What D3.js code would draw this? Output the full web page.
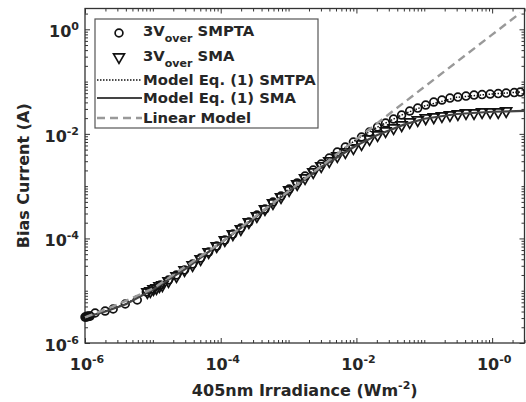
<!DOCTYPE html>
<html>
<head>
<meta charset="utf-8">
<script src="https://cdnjs.cloudflare.com/ajax/libs/d3/7.8.5/d3.min.js"></script>
<style>
body { margin: 0; background: #fff; }
text { font-family: "DejaVu Sans", sans-serif; font-weight: bold; fill: #262626; }
</style>
</head>
<body>
<div id="chart"></div>
<script>
// 3V_over SMPTA, measured (circles)
var smpta_x = [1.00e-6, 1.035e-6, 1.07e-6, 1.11e-6, 1.15e-6, 1.19e-6, 1.41e-6, 1.98e-6, 2.60e-6, 3.92e-6, 5.89e-6,
    8.01e-6, 9.84e-6, 1.29e-5, 1.70e-5, 2.23e-5, 2.93e-5, 3.85e-5, 5.06e-5, 6.64e-5, 8.73e-5,
    1.15e-4, 1.51e-4, 1.98e-4, 2.60e-4, 3.41e-4, 4.49e-4, 5.89e-4, 7.74e-4, 1.02e-3, 1.34e-3,
    1.75e-3, 2.31e-3, 3.03e-3, 3.98e-3, 5.23e-3, 6.87e-3, 9.03e-3, 1.19e-2, 1.56e-2, 2.05e-2,
    2.69e-2, 3.53e-2, 4.64e-2, 6.10e-2, 8.01e-2, 0.105, 0.138, 0.182, 0.239, 0.313,
    0.412, 0.541, 0.711, 0.934, 1.23, 1.61, 2.12, 2.60];
var smpta_y = [3.14e-6, 3.14e-6, 3.21e-6, 3.21e-6, 3.28e-6, 3.28e-6, 3.75e-6, 4.09e-6, 4.47e-6, 5.57e-6, 6.64e-6,
    9.45e-6, 1.08e-5, 1.28e-5, 1.60e-5, 2.00e-5, 2.49e-5, 3.24e-5, 4.22e-5, 5.49e-5, 7.16e-5,
    9.31e-5, 1.21e-4, 1.58e-4, 2.06e-4, 2.80e-4, 3.65e-4, 4.97e-4, 6.47e-4, 8.81e-4, 1.15e-3,
    1.56e-3, 2.03e-3, 2.65e-3, 3.45e-3, 4.49e-3, 5.60e-3, 6.97e-3, 8.69e-3, 1.08e-2, 1.35e-2,
    1.61e-2, 1.92e-2, 2.29e-2, 2.73e-2, 3.11e-2, 3.56e-2, 4.06e-2, 4.43e-2, 4.83e-2, 5.05e-2,
    5.28e-2, 5.52e-2, 5.64e-2, 5.77e-2, 5.89e-2, 6.02e-2, 6.16e-2, 6.30e-2];

// 3V_over SMA, measured (triangles)
var sma_x = [8.30e-6, 9.19e-6, 1.02e-5, 1.13e-5, 1.25e-5, 1.38e-5, 1.70e-5, 2.23e-5, 2.93e-5, 3.85e-5, 5.06e-5,
    6.64e-5, 8.73e-5, 1.15e-4, 1.51e-4, 1.98e-4, 2.60e-4, 3.41e-4, 4.49e-4, 5.89e-4, 7.74e-4,
    1.02e-3, 1.34e-3, 1.75e-3, 2.31e-3, 3.03e-3, 3.98e-3, 5.23e-3, 6.87e-3, 9.03e-3, 1.19e-2,
    1.56e-2, 2.05e-2, 2.69e-2, 3.53e-2, 4.64e-2, 6.10e-2, 8.01e-2, 0.105, 0.138, 0.182,
    0.239, 0.313, 0.412, 0.541, 0.711, 0.934, 1.23, 1.61];
var sma_y = [9.45e-6, 9.87e-6, 1.08e-5, 1.13e-5, 1.23e-5, 1.28e-5, 1.53e-5, 1.91e-5, 2.49e-5, 3.10e-5, 4.03e-5,
    5.49e-5, 7.16e-5, 9.31e-5, 1.21e-4, 1.51e-4, 2.06e-4, 2.68e-4, 3.65e-4, 4.75e-4, 6.19e-4,
    8.43e-4, 1.10e-3, 1.43e-3, 1.86e-3, 2.42e-3, 3.02e-3, 3.77e-3, 4.49e-3, 5.35e-3, 6.38e-3,
    7.95e-3, 9.48e-3, 1.13e-2, 1.29e-2, 1.47e-2, 1.68e-2, 1.84e-2, 2.00e-2, 2.09e-2, 2.19e-2,
    2.29e-2, 2.39e-2, 2.50e-2, 2.50e-2, 2.61e-2, 2.61e-2, 2.61e-2, 2.73e-2];

// Model Eq. (1) curves
var model_smpta_x = [1e-6, 2e-6, 4e-6, 1e-5, 3e-5, 1e-4, 3e-4, 1e-3, 3e-3, 1e-2, 2e-2, 5e-2, 0.1, 0.3, 1, 2.6];
var model_smpta_y = [3.1e-6, 4.1e-6, 5.6e-6, 1.07e-5, 2.6e-5, 8.2e-5, 2.4e-4, 8.6e-4, 2.6e-3, 7.8e-3, 1.33e-2, 2.4e-2, 3.4e-2, 5.0e-2, 5.8e-2, 6.3e-2];
var model_sma_x = [1e-6, 2e-6, 4e-6, 1e-5, 3e-5, 1e-4, 3e-4, 1e-3, 3e-3, 1e-2, 2e-2, 5e-2, 0.1, 0.3, 1, 3];
var model_sma_y = [3.1e-6, 4.0e-6, 5.5e-6, 1.05e-5, 2.6e-5, 8.2e-5, 2.35e-4, 7.9e-4, 2.3e-3, 6.0e-3, 9.4e-3, 1.5e-2, 1.95e-2, 2.4e-2, 2.65e-2, 2.75e-2];
var linear_x = [1e-6, 3e-6, 1e-5, 1e-4, 1e-3, 1e-2, 0.1, 1, 2.6];
var linear_y = [3.1e-6, 5.4e-6, 1.1e-5, 8.3e-5, 8.0e-4, 7.9e-3, 7.9e-2, 0.79, 2.05];

var x_tick_exps = [-6, -4, -2, 0];
var x_tick_sups = ['-6', '-4', '-2', '-0'];
var y_tick_exps = [-6, -4, -2, 0];
var y_tick_sups = ['-6', '-4', '-2', '0'];

var legend_labels = ['SMPTA', 'SMA', 'Model Eq. (1) SMTPA', 'Model Eq. (1) SMA', 'Linear Model'];

var width = 526, height = 402;
var margin = {top: 8.5, right: 1.5, bottom: 59, left: 85};
var axisColor = '#333';

var svg = d3.select('#chart').append('svg')
    .attr('width', width)
    .attr('height', height);

var x = d3.scaleLog().domain([1e-6, 3]).range([margin.left, width - margin.right]);
var y = d3.scaleLog().domain([1e-6, 2.5]).range([height - margin.bottom, margin.top]);

// tick positions k*10^n inside the domain
function logTicks(scale) {
    var d = scale.domain(), out = [];
    for (var e = -6; e <= 0; e++) {
        for (var k = 1; k <= 9; k++) {
            var v = k * Math.pow(10, e);
            if (v >= d[0] && v <= d[1]) out.push(v);
        }
    }
    return out;
}

function isMajor(v) {
    var e = Math.log10(v);
    return Math.abs(e - Math.round(e)) < 1e-9 && Math.round(e) % 2 === 0;
}

function styleAxis(g) {
    g.select('.domain').remove();
    g.selectAll('.tick line').attr('stroke', axisColor).attr('stroke-width', 1);
}

var xt = logTicks(x), yt = logTicks(y);
var x0 = margin.left, x1 = width - margin.right, y0 = height - margin.bottom, y1 = margin.top;

svg.append('g').attr('transform', 'translate(0,' + y0 + ')')
    .call(d3.axisBottom(x).tickValues(xt).tickFormat('').tickSizeOuter(0)
        .tickSizeInner(-3)).call(styleAxis)
    .selectAll('.tick line').attr('y2', function (d) { return isMajor(d) ? -5 : -3; });
svg.append('g').attr('transform', 'translate(0,' + y1 + ')')
    .call(d3.axisTop(x).tickValues(xt).tickFormat('').tickSizeOuter(0)
        .tickSizeInner(-3)).call(styleAxis)
    .selectAll('.tick line').attr('y2', function (d) { return isMajor(d) ? 5 : 3; });
svg.append('g').attr('transform', 'translate(' + x0 + ',0)')
    .call(d3.axisLeft(y).tickValues(yt).tickFormat('').tickSizeOuter(0)
        .tickSizeInner(-3)).call(styleAxis)
    .selectAll('.tick line').attr('x2', function (d) { return isMajor(d) ? 5 : 3; });
svg.append('g').attr('transform', 'translate(' + x1 + ',0)')
    .call(d3.axisRight(y).tickValues(yt).tickFormat('').tickSizeOuter(0)
        .tickSizeInner(-3)).call(styleAxis)
    .selectAll('.tick line').attr('x2', function (d) { return isMajor(d) ? -5 : -3; });

svg.append('rect')
    .attr('x', x0).attr('y', y1)
    .attr('width', x1 - x0).attr('height', y0 - y1)
    .attr('fill', 'none').attr('stroke', axisColor).attr('stroke-width', 1.3);

// tick labels with superscripts
x_tick_exps.forEach(function (e, i) {
    var t = svg.append('text')
        .attr('x', x(Math.pow(10, e)) + 2).attr('y', 370)
        .attr('text-anchor', 'middle').style('font-size', '16px');
    t.append('tspan').text('10');
    t.append('tspan').attr('dy', -7).style('font-size', '11px').text(x_tick_sups[i]);
});
y_tick_exps.forEach(function (e, i) {
    var t = svg.append('text')
        .attr('x', 79).attr('y', y(Math.pow(10, e)) + 8)
        .attr('text-anchor', 'end').style('font-size', '16px');
    t.append('tspan').text('10');
    t.append('tspan').attr('dy', -7).style('font-size', '11px').text(y_tick_sups[i]);
});

// axis titles
var xt_title = svg.append('text')
    .attr('x', (x0 + x1) / 2).attr('y', 396)
    .attr('text-anchor', 'middle').style('font-size', '16px');
xt_title.append('tspan').text('405nm Irradiance (Wm');
xt_title.append('tspan').attr('dy', -7).style('font-size', '11px').text('-2');
xt_title.append('tspan').attr('dy', 7).text(')');

svg.append('text')
    .attr('transform', 'translate(29,' + (y0 + y1) / 2 + ') rotate(-90)')
    .attr('text-anchor', 'middle').style('font-size', '16px')
    .text('Bias Current (A)');

var plot = svg.append('g');

// markers
var tri = d3.symbol().type(d3.symbolTriangle).size(52);

plot.selectAll('circle.smpta')
    .data(d3.zip(smpta_x, smpta_y))
    .enter().append('circle')
    .attr('class', 'smpta')
    .attr('cx', function (d) { return x(d[0]); })
    .attr('cy', function (d) { return y(d[1]); })
    .attr('r', 3.9)
    .attr('fill', 'none').attr('stroke', '#111').attr('stroke-width', 1.7);

plot.selectAll('path.sma')
    .data(d3.zip(sma_x, sma_y))
    .enter().append('path')
    .attr('class', 'sma')
    .attr('d', tri)
    .attr('transform', function (d) {
        return 'translate(' + x(d[0]) + ',' + y(d[1]) + ') rotate(180)';
    })
    .attr('fill', 'none').attr('stroke', '#111').attr('stroke-width', 1.7);

// model lines
var line = d3.line()
    .x(function (d) { return x(d[0]); })
    .y(function (d) { return y(d[1]); });

plot.append('path')
    .datum(d3.zip(model_smpta_x, model_smpta_y))
    .attr('d', line)
    .attr('fill', 'none').attr('stroke', '#111').attr('stroke-width', 1.5)
    .attr('stroke-dasharray', '1.5,1.5');

plot.append('path')
    .datum(d3.zip(model_sma_x, model_sma_y))
    .attr('d', line)
    .attr('fill', 'none').attr('stroke', '#444').attr('stroke-width', 2.2);

plot.append('path')
    .datum(d3.zip(linear_x, linear_y))
    .attr('d', line)
    .attr('fill', 'none').attr('stroke', '#999').attr('stroke-width', 2.4)
    .attr('stroke-dasharray', '8,5');

// legend
var lg = svg.append('g');
lg.append('rect')
    .attr('x', 95).attr('y', 19).attr('width', 223).attr('height', 109)
    .attr('fill', '#fff').attr('stroke', '#555').attr('stroke-width', 1.2);

lg.append('circle').attr('cx', 119).attr('cy', 33).attr('r', 3.9)
    .attr('fill', 'none').attr('stroke', '#111').attr('stroke-width', 1.7);
lg.append('path').attr('d', tri).attr('transform', 'translate(119,57) rotate(180)')
    .attr('fill', 'none').attr('stroke', '#111').attr('stroke-width', 1.7);
lg.append('line').attr('x1', 97).attr('x2', 142).attr('y1', 80).attr('y2', 80)
    .attr('stroke', '#111').attr('stroke-width', 1.5).attr('stroke-dasharray', '1.5,1.5');
lg.append('line').attr('x1', 97).attr('x2', 142).attr('y1', 98).attr('y2', 98)
    .attr('stroke', '#444').attr('stroke-width', 2.2);
lg.append('line').attr('x1', 97).attr('x2', 142).attr('y1', 118).attr('y2', 118)
    .attr('stroke', '#999').attr('stroke-width', 2.4).attr('stroke-dasharray', '8,5');

var legend_y = [36, 61, 85, 103, 123];
legend_labels.forEach(function (label, i) {
    var t = lg.append('text').attr('x', 143).attr('y', legend_y[i]).style('font-size', '14.8px');
    if (i < 2) {
        t.append('tspan').text('3V');
        t.append('tspan').attr('dy', 6).style('font-size', '11px').text('over');
        t.append('tspan').attr('dy', -6).text(' ' + label);
    } else {
        t.text(label);
    }
});
</script>
</body>
</html>
